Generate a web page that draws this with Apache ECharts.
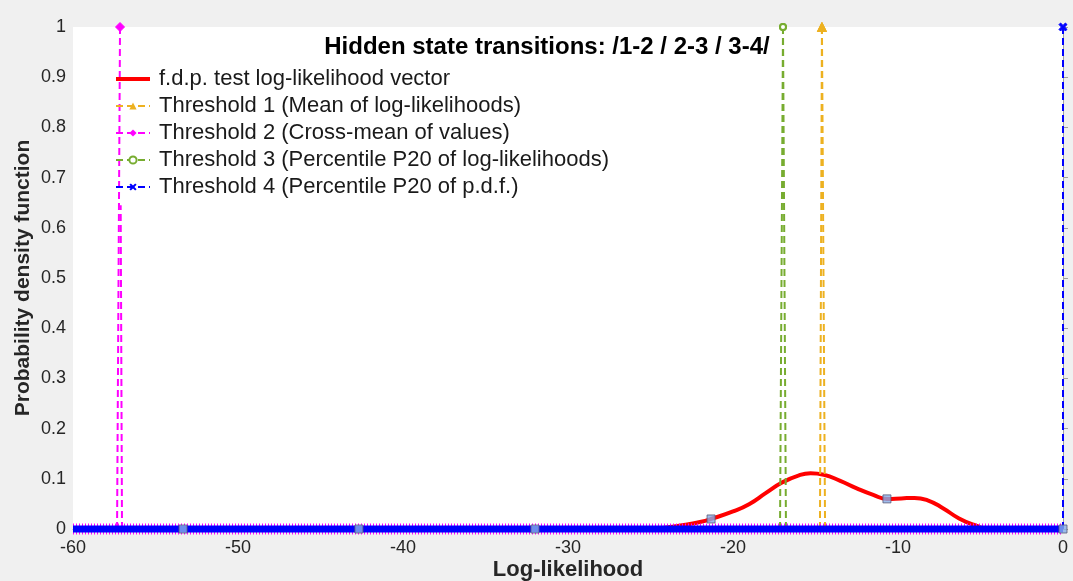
<!DOCTYPE html>
<html>
<head>
<meta charset="utf-8">
<script src="https://cdn.jsdelivr.net/npm/echarts@6/dist/echarts.min.js"></script>
<style>
  html, body { margin: 0; padding: 0; background: #f0f0f0; }
  #chart { width: 1073px; height: 581px; }
</style>
</head>
<body>
<div id="chart"></div>
<script>
// Estimated probability density of the test log-likelihoods
const curveX = [-60, -26, -24, -23, -22, -21.33, -20, -19, -18, -17, -16, -15.3, -14.5, -13.5, -12.5, -11.5, -10.67, -9.8, -9, -8.2, -7.3, -6.3, -5.3, -4.5, 0];
const curveY = [0, 0, 0.003, 0.008, 0.014, 0.02, 0.035, 0.05, 0.072, 0.093, 0.107, 0.111, 0.108, 0.096, 0.081, 0.068, 0.06, 0.061, 0.062, 0.057, 0.042, 0.021, 0.007, 0, 0];

// Sample markers placed along the density curve
const sampleX = [-53.33, -42.67, -32, -21.33, -10.67, 0];
const sampleY = [0, 0, 0, 0.02, 0.06, 0];

// Threshold lines, one per state transition: foot x, head x, head y, marker at head
const thr1Foot = [-14.73, -14.42];
const thr1HeadX = [-14.61, -14.61];
const thr1HeadY = [1, 1];
const thr1Mark = [true, true];

const thr2Foot = [-57.33, -57.03];
const thr2HeadX = [-57.15, -57.11];
const thr2HeadY = [1, 0.645];
const thr2Mark = [true, false];

const thr3Foot = [-17.15, -16.79];
const thr3HeadX = [-16.97, -16.97];
const thr3HeadY = [1, 1];
const thr3Mark = [true, true];

const thr4Foot = [0];
const thr4HeadX = [0];
const thr4HeadY = [1];
const thr4Mark = [true];

// Zero baseline spanning the whole axis
const baseX = [-60, 0];
const baseY = [0, 0];

const names = [
  'f.d.p. test log-likelihood vector',
  'Threshold 1 (Mean of log-likelihoods)',
  'Threshold 2 (Cross-mean of values)',
  'Threshold 3 (Percentile P20 of log-likelihoods)',
  'Threshold 4 (Percentile P20 of p.d.f.)'
];

const FONT = '"Liberation Sans", Arial, sans-serif';
const crossPath = 'path://M2,0 L5,3 L8,0 L10,2 L7,5 L10,8 L8,10 L5,7 L2,10 L0,8 L3,5 L0,2 Z';
const thickLinePath = 'path://M0,0 L34,0 L34,4 L0,4 Z';

function zip(xs, ys) { return xs.map((x, i) => [x, ys[i]]); }

function thresholdSeries(name, color, symbol, symbolSize, foot, headX, headY, mark) {
  return foot.map((fx, i) => ({
    name: name,
    type: 'line',
    clip: false,
    z: 3,
    symbol: symbol,
    symbolSize: symbolSize,
    showSymbol: true,
    color: color,
    itemStyle: { color: color, borderColor: color },
    lineStyle: { color: color, width: 2, type: [7, 4] },
    emphasis: { disabled: true },
    data: [
      { value: [fx, 0], symbol: 'none' },
      { value: [headX[i], headY[i]], symbol: mark[i] ? symbol : 'none' }
    ]
  }));
}

const series = [
  {
    name: names[0],
    type: 'line',
    z: 2,
    smooth: 0.5,
    symbol: 'none',
    color: '#ff0000',
    itemStyle: { color: '#ff0000' },
    lineStyle: { color: '#ff0000', width: 4 },
    emphasis: { disabled: true },
    data: zip(curveX, curveY)
  },
  ...thresholdSeries(names[1], '#EDB120', 'triangle', 9, thr1Foot, thr1HeadX, thr1HeadY, thr1Mark),
  ...thresholdSeries(names[2], '#ff00ff', 'diamond', 9, thr2Foot, thr2HeadX, thr2HeadY, thr2Mark),
  ...thresholdSeries(names[3], '#77AC30', 'emptyCircle', 6, thr3Foot, thr3HeadX, thr3HeadY, thr3Mark),
  ...thresholdSeries(names[4], '#0000ff', crossPath, 8, thr4Foot, thr4HeadX, thr4HeadY, thr4Mark),
  {
    name: 'baseline-edge',
    type: 'line',
    z: 4,
    clip: false,
    symbol: 'none',
    lineStyle: { color: '#ff00ff', width: 11, type: [1, 2], cap: 'butt' },
    emphasis: { disabled: true },
    data: zip(baseX, baseY)
  },
  {
    name: 'baseline',
    type: 'line',
    z: 5,
    clip: false,
    symbol: 'none',
    lineStyle: { color: '#0000ff', width: 7 },
    emphasis: { disabled: true },
    data: zip(baseX, baseY)
  },
  {
    name: 'samples',
    type: 'scatter',
    z: 6,
    clip: false,
    symbol: 'rect',
    symbolSize: 8,
    itemStyle: { color: '#86aee8', borderColor: '#5a5a78', borderWidth: 1 },
    emphasis: { disabled: true },
    data: zip(sampleX, sampleY)
  }
];

const chart = echarts.init(document.getElementById('chart'), null, { renderer: 'canvas' });
chart.setOption({
  animation: false,
  backgroundColor: '#f0f0f0',
  textStyle: { fontFamily: FONT },
  title: {
    text: 'Hidden state transitions: /1-2 / 2-3 / 3-4/',
    left: 542,
    top: 30,
    textAlign: 'center',
    textStyle: { fontFamily: FONT, fontSize: 24, fontWeight: 'bold', color: '#000' }
  },
  legend: {
    orient: 'vertical',
    left: 110,
    top: 63,
    itemWidth: 34,
    itemHeight: 9,
    itemGap: 5,
    data: [
      { name: names[0], icon: thickLinePath },
      names[1], names[2], names[3], names[4]
    ],
    textStyle: { fontFamily: FONT, fontSize: 22, lineHeight: 22, color: '#1a1a1a', padding: [0, 0, 0, 4] },
    selectedMode: false
  },
  grid: {
    left: 73, right: 10, top: 27, bottom: 52,
    outerBoundsMode: 'none',
    containLabel: false,
    show: true, backgroundColor: '#ffffff', borderWidth: 0
  },
  xAxis: {
    type: 'value',
    min: -60, max: 0, interval: 10,
    name: 'Log-likelihood',
    nameLocation: 'middle',
    nameGap: 30,
    nameMoveOverlap: false,
    nameTextStyle: { fontFamily: FONT, fontSize: 22, fontWeight: 'bold', color: '#262626' },
    axisLine: { show: true, lineStyle: { color: '#a0a0a0', width: 1 } },
    axisTick: { show: true, inside: true, length: 5, lineStyle: { color: '#a0a0a0' } },
    axisLabel: { fontFamily: FONT, fontSize: 18, color: '#262626', margin: 10 },
    splitLine: { show: false }
  },
  yAxis: {
    type: 'value',
    min: 0, max: 1, interval: 0.1,
    name: 'Probability density function',
    nameLocation: 'middle',
    nameGap: 39,
    nameMoveOverlap: false,
    nameTextStyle: { fontFamily: FONT, fontSize: 21, fontWeight: 'bold', color: '#262626' },
    axisLine: { show: true, lineStyle: { color: '#a0a0a0', width: 1 } },
    axisTick: { show: true, inside: true, length: 5, lineStyle: { color: '#a0a0a0' } },
    axisLabel: { fontFamily: FONT, fontSize: 18, color: '#262626', margin: 7 },
    splitLine: { show: false }
  },
  series: series
});
</script>
</body>
</html>
